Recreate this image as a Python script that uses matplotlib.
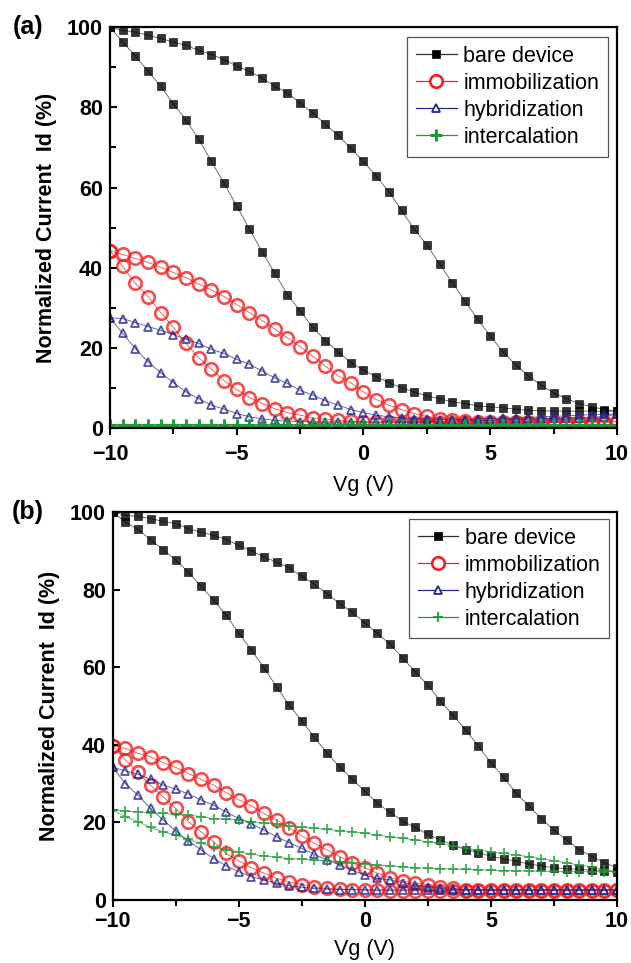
import numpy as np
import matplotlib
matplotlib.use('Agg')
import matplotlib.pyplot as plt
from matplotlib.lines import Line2D
from matplotlib.ticker import MultipleLocator

plt.rcParams['font.family'] = ['Liberation Sans', 'DejaVu Sans']

# gate sweep, 0.5 V steps
Vg = np.arange(-10, 10.01, 0.5)

# ---- panel (a): normalized drain current (%), forward (lower) and reverse (upper) branch
bare_a_fwd = [100, 96.3, 92.9, 89.0, 85.3, 80.9, 76.8, 72.1, 66.5, 61.1, 55.4,
              49.6, 44.0, 38.6, 33.3, 29.2, 25.1, 21.8, 19.0, 16.3, 14.4,
              12.8, 11.3, 10.0, 9.0, 8.0, 7.3, 6.5, 6.1, 5.5, 5.3,
              5.0, 4.7, 4.4, 4.3, 4.2, 4.2, 4.2, 4.2, 4.2, 4.2]
bare_a_rev = [100, 99.2, 98.8, 98.0, 97.2, 96.3, 95.5, 94.2, 93.2, 91.9, 90.3,
              89.0, 87.3, 85.3, 83.6, 81.1, 78.6, 75.8, 73.0, 69.8, 66.5,
              62.8, 59.0, 54.3, 49.6, 45.7, 40.9, 36.3, 31.7, 27.2, 23.0,
              19.0, 15.8, 13.0, 10.7, 8.8, 7.3, 6.1, 5.3, 4.6, 4.2]
immo_a_fwd = [44.2, 40.3, 36.1, 32.8, 28.8, 25.1, 21.1, 17.5, 14.7, 11.8, 9.6,
              7.6, 6.1, 4.8, 3.8, 3.2, 2.5, 2.2, 1.9, 1.7, 1.5,
              1.4, 1.4, 1.3, 1.3, 1.3, 1.3, 1.3, 1.3, 1.3, 1.3,
              1.3, 1.3, 1.3, 1.3, 1.3, 1.3, 1.3, 1.3, 1.3, 1.6]
immo_a_rev = [44.2, 43.3, 42.3, 41.3, 40.1, 38.8, 37.5, 35.9, 34.4, 32.8, 30.8,
              28.8, 26.8, 24.7, 22.5, 20.3, 17.9, 15.4, 13.0, 11.3, 9.0,
              7.1, 5.7, 4.6, 3.6, 2.9, 2.3, 1.9, 1.8, 1.6, 1.5,
              1.5, 1.5, 1.5, 1.5, 1.5, 1.5, 1.5, 1.6, 1.6, 1.6]
hyb_a_fwd = [27.5, 23.6, 19.8, 16.5, 13.8, 11.3, 9.0, 7.3, 5.7, 4.7, 3.6,
             2.8, 2.3, 1.9, 1.7, 1.6, 1.5, 1.5, 1.5, 1.5, 1.5,
             1.5, 1.5, 1.5, 1.5, 1.6, 1.6, 1.7, 1.7, 1.8, 1.9,
             2.0, 2.1, 2.2, 2.3, 2.4, 2.5, 2.6, 2.7, 2.8, 3.5]
hyb_a_rev = [27.5, 27.3, 26.3, 25.3, 24.4, 23.3, 22.1, 21.1, 19.6, 18.6, 17.1,
             15.9, 14.2, 12.5, 11.1, 9.4, 8.2, 6.8, 5.7, 4.6, 3.8,
             3.2, 2.8, 2.5, 2.3, 2.2, 2.1, 2.1, 2.1, 2.2, 2.3,
             2.4, 2.5, 2.6, 2.8, 2.9, 3.0, 3.2, 3.3, 3.4, 3.5]
int_a_fwd = [0.8, 0.7, 0.7, 0.7, 0.7, 0.7, 0.7, 0.7, 0.7, 0.7, 0.7,
             0.7, 0.7, 0.7, 0.7, 0.7, 0.7, 0.7, 0.7, 0.7, 0.7,
             0.7, 0.7, 0.7, 0.7, 0.7, 0.7, 0.7, 0.7, 0.7, 0.7,
             0.7, 0.7, 0.7, 0.7, 0.7, 0.7, 0.7, 0.7, 0.7, 0.8]
int_a_rev = [0.8, 0.8, 0.8, 0.8, 0.8, 0.8, 0.8, 0.8, 0.8, 0.8, 0.8,
             0.8, 0.8, 0.8, 0.8, 0.8, 0.8, 0.8, 0.8, 0.8, 0.8,
             0.8, 0.8, 0.8, 0.8, 0.8, 0.8, 0.8, 0.8, 0.8, 0.8,
             0.8, 0.8, 0.8, 0.8, 0.8, 0.8, 0.8, 0.8, 0.8, 0.8]

# ---- panel (b)
bare_b_fwd = [100, 97.4, 95.5, 92.9, 90.3, 87.6, 84.5, 80.9, 77.3, 73.4, 68.8,
              64.4, 59.9, 54.9, 50.2, 46.2, 41.9, 37.9, 34.3, 31.1, 28.1,
              24.9, 22.6, 20.3, 18.7, 16.9, 15.5, 14.2, 13.0, 12.2, 11.3,
              10.6, 10.0, 9.3, 8.8, 8.3, 8.1, 7.9, 7.7, 7.6, 7.3]
bare_b_rev = [100, 99.1, 98.9, 98.3, 97.6, 97.0, 95.7, 94.8, 94.0, 92.9, 91.4,
              90.0, 88.4, 87.1, 85.6, 83.4, 81.4, 79.0, 76.4, 74.2, 71.4,
              68.7, 65.9, 62.4, 58.8, 55.4, 51.3, 47.6, 43.8, 39.7, 35.4,
              31.6, 27.6, 24.2, 21.0, 18.0, 15.5, 13.0, 11.2, 9.6, 8.3]
immo_b_fwd = [39.7, 36.1, 33.0, 29.6, 26.6, 23.6, 20.2, 17.6, 15.0, 12.0, 10.1,
              8.3, 6.9, 5.6, 4.7, 4.0, 3.4, 3.0, 2.8, 2.7, 2.6,
              2.5, 2.4, 2.4, 2.4, 2.4, 2.4, 2.4, 2.4, 2.4, 2.4,
              2.4, 2.4, 2.4, 2.4, 2.4, 2.4, 2.4, 2.4, 2.4, 2.5]
immo_b_rev = [39.7, 39.1, 37.8, 36.9, 35.4, 34.2, 32.6, 31.1, 29.6, 27.7, 25.8,
              24.3, 22.3, 20.6, 18.6, 16.5, 14.6, 12.9, 11.2, 9.6, 8.3,
              6.9, 5.8, 4.9, 4.3, 4.0, 3.4, 3.0, 2.7, 2.6, 2.5,
              2.5, 2.5, 2.5, 2.5, 2.5, 2.5, 2.5, 2.5, 2.5, 2.5]
hyb_b_fwd = [34.2, 30.0, 27.0, 23.6, 20.6, 17.8, 15.3, 12.9, 10.7, 8.8, 7.3,
             6.0, 5.2, 4.3, 3.7, 3.3, 3.0, 2.8, 2.7, 2.7, 2.6,
             2.6, 2.6, 2.6, 2.6, 2.6, 2.6, 2.6, 2.6, 2.6, 2.6,
             2.6, 2.6, 2.6, 2.6, 2.6, 2.6, 2.6, 2.6, 2.6, 2.6]
hyb_b_rev = [34.2, 33.3, 32.4, 31.1, 29.6, 28.6, 27.3, 25.8, 24.5, 22.7, 21.0,
             19.7, 18.0, 16.3, 14.8, 13.3, 11.8, 10.3, 9.0, 7.7, 6.4,
             5.6, 5.2, 4.5, 3.9, 3.4, 3.0, 2.8, 2.7, 2.6, 2.6,
             2.6, 2.6, 2.6, 2.6, 2.6, 2.6, 2.6, 2.6, 2.6, 2.6]
int_b_fwd = [23.2, 21.5, 20.2, 18.7, 17.6, 16.7, 15.6, 14.6, 13.7, 13.0, 12.4,
             11.8, 11.4, 11.0, 10.7, 10.5, 10.3, 10.1, 9.9, 9.6, 9.4,
             9.0, 8.8, 8.6, 8.3, 8.2, 8.1, 8.0, 7.9, 7.8, 7.7,
             7.6, 7.5, 7.5, 7.4, 7.4, 7.3, 7.3, 7.3, 7.3, 7.3]
int_b_rev = [23.2, 22.9, 22.7, 22.5, 22.3, 22.1, 21.9, 21.5, 21.0, 20.8, 20.6,
             20.2, 19.9, 19.6, 19.1, 18.7, 18.5, 18.2, 17.9, 17.6, 17.2,
             16.7, 16.3, 15.9, 15.5, 15.0, 14.6, 13.9, 13.3, 12.9, 12.4,
             12.0, 11.6, 11.2, 10.7, 10.1, 9.6, 9.0, 8.6, 7.7, 7.3]

labels = ['bare device', 'immobilization', 'hybridization', 'intercalation']

RED = '#f02020'
BLUE = '#262690'
GREEN = '#1c9a34'


def styles(thick_plus):
    return [
        dict(color='#303030', marker='s', ms=5.8, mfc='black', mec='black', mew=0.5),
        dict(color=RED, marker='o', ms=9.0, mfc='none', mec=RED, mew=1.9),
        dict(color=BLUE, marker='^', ms=6.3, mfc='none', mec=BLUE, mew=1.3),
        dict(color=GREEN, marker='+', ms=8.0 if thick_plus else 7.0, mfc='none', mec=GREEN,
             mew=2.2 if thick_plus else 1.3),
    ]


def draw_panel(ax, data, y_minor, thick_plus, legend_anchor, tick_pad, xlabel_pad):
    sty = styles(thick_plus)
    x_loop = np.concatenate([Vg, Vg[::-1]])
    for (fwd, rev), st in zip(data, sty):
        y_loop = np.concatenate([np.array(fwd), np.array(rev)[::-1]])
        ax.plot(x_loop, y_loop, lw=0.6, alpha=0.8, **st)

    ax.set_xlim(-10, 10)
    ax.set_ylim(0, 100)
    ax.xaxis.set_major_locator(MultipleLocator(5))
    ax.xaxis.set_minor_locator(MultipleLocator(2.5))
    ax.yaxis.set_major_locator(MultipleLocator(20))
    if y_minor:
        ax.yaxis.set_minor_locator(MultipleLocator(10))
    ax.tick_params(axis='x', which='both', direction='out', width=1.5, pad=tick_pad,
                   labelsize=15.5, top=False)
    ax.tick_params(axis='x', which='major', length=5)
    ax.tick_params(axis='x', which='minor', length=4.5)
    ax.tick_params(axis='y', which='both', direction='in', width=1.5, pad=5,
                   labelsize=15.5, right=False)
    ax.tick_params(axis='y', which='major', length=5)
    ax.tick_params(axis='y', which='minor', length=4)
    for lab in ax.get_xticklabels() + ax.get_yticklabels():
        lab.set_fontweight('bold')
    for sp in ax.spines.values():
        sp.set_linewidth(1.6)

    ax.set_xlabel('Vg (V)', fontsize=15.5, labelpad=xlabel_pad)
    ax.set_ylabel('Normalized Current  Id (%)', fontsize=15.5, fontweight='bold', labelpad=7)

    handles = []
    for st in sty:
        h = dict(st)
        if h['mfc'] == 'none':
            h['mfc'] = 'white'
        handles.append(Line2D([], [], lw=0.9, **h))
    leg = ax.legend(handles, labels, loc='upper right', bbox_to_anchor=legend_anchor,
                    borderaxespad=0, fontsize=15.5, labelspacing=0.28, handlelength=1.9,
                    handletextpad=0.3, borderpad=0.4, fancybox=False, framealpha=1)
    leg.get_frame().set_edgecolor('#555555')
    leg.get_frame().set_linewidth(0.9)


fig = plt.figure(figsize=(6.31, 9.63), dpi=100)
ax_a = fig.add_axes([0.1743, 0.5556, 0.8035, 0.4161])
ax_b = fig.add_axes([0.1786, 0.0654, 0.7992, 0.4029])

draw_panel(ax_a, [(bare_a_fwd, bare_a_rev), (immo_a_fwd, immo_a_rev),
                  (hyb_a_fwd, hyb_a_rev), (int_a_fwd, int_a_rev)],
           True, True, (0.982, 0.975), 6.5, 7)
draw_panel(ax_b, [(bare_b_fwd, bare_b_rev), (immo_b_fwd, immo_b_rev),
                  (hyb_b_fwd, hyb_b_rev), (int_b_fwd, int_b_rev)],
           False, False, (0.985, 0.982), 3, 5)

fig.text(28 / 631, 1 - 27 / 963, '(a)', fontsize=18, fontweight='bold', ha='center', va='center')
fig.text(28 / 631, 1 - 512 / 963, '(b)', fontsize=18, fontweight='bold', ha='center', va='center')

fig.savefig('out.png', dpi=100)
